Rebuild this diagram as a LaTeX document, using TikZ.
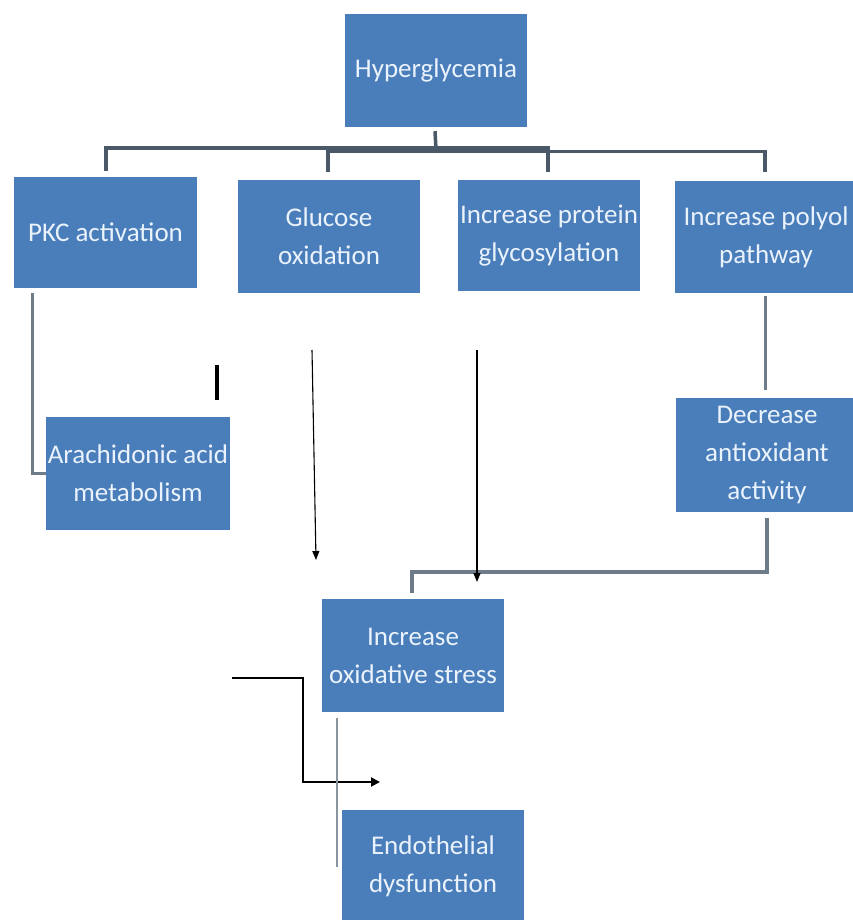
\documentclass[tikz,border=0pt]{standalone}
\usepackage{fontspec}
\setmainfont{Carlito}
\usetikzlibrary{arrows.meta,calc}
\definecolor{boxblue}{HTML}{4A7EBB}
\definecolor{boxtext}{HTML}{EAF2FB}
\definecolor{treeline}{HTML}{4A5868}
\definecolor{grayline}{HTML}{6E7C8A}
\definecolor{thingray}{HTML}{8A949E}
\begin{document}
\begin{tikzpicture}[x=1pt,y=-1pt,
  bluebox/.style={rectangle,fill=boxblue,text=boxtext,inner sep=0pt,
    minimum width=182pt,minimum height=113pt,align=center,
    font=\fontsize{27}{38}\selectfont},
  treelink/.style={draw=treeline,line width=3.5pt},
  graylink/.style={draw=grayline,line width=3pt},
  blackarrow/.style={draw=black,line width=1.1pt,-{Triangle[length=9pt,width=7pt]}},
  bentarrow/.style={draw=black,line width=2pt,-{Triangle[length=9pt,width=9pt]}}
]
\useasboundingbox[fill=white] (0,0) rectangle (852,920);

% boxes
\node[bluebox] (hyper) at (436,70.5) {Hyperglycemia};
\node[bluebox,minimum width=183pt,minimum height=111pt] (pkc) at (105.5,232.5) {PKC activation};
\node[bluebox] (glu) at (329,236.5) {Glucose\\oxidation};
\node[bluebox,minimum height=111pt] (prot) at (549,235.5) {Increase protein\\glycosylation};
\node[bluebox,minimum height=112pt] (poly) at (766,237) {Increase polyol\\pathway};
\node[bluebox,minimum width=184pt] (arach) at (138,473.5) {Arachidonic acid\\metabolism};
\node[bluebox,minimum height=114pt] (decr) at (767,455) {Decrease\\antioxidant\\activity};
\node[bluebox] (oxid) at (413,655.5) {Increase\\oxidative stress};
\node[bluebox,minimum height=112pt] (endo) at (433,866) {Endothelial\\dysfunction};

% tree from Hyperglycemia
\coordinate (stemtop) at ($(hyper.south)+(-1,4)$);
\coordinate (busA) at (436,149);
\coordinate (busAl) at (106,148);
\coordinate (busAr) at (548,148);
\coordinate (busBl) at (328,151.5);
\coordinate (busBr) at (765,151.5);
\draw[treelink] (stemtop) -- (busA);
\draw[treelink] ($(pkc.north)+(0.5,-6)$) -- (busAl) -- (busAr) -- ($(prot.north)+(-1,-8)$);
\draw[treelink] ($(glu.north)+(-1,-8)$) -- (busBl) -- (busBr) -- ($(poly.north)+(-1,-9)$);

% PKC -> Arachidonic
\coordinate (pkcdown) at (32,293);
\coordinate (pkcbend) at (32,473);
\draw[graylink] (pkcdown) -- (pkcbend) -- (pkcbend -| arach.west);

% Polyol -> Decrease
\draw[graylink] ($(poly.south)+(-1,3)$) -- ($(decr.north)+(-2,-8)$);

% Decrease -> Oxidative stress
\coordinate (decrdown) at ($(decr.south)+(0,6)$);
\coordinate (bracketR) at (767,572);
\coordinate (bracketL) at (412,572);
\draw[treelink,line width=3.5pt,draw=grayline] (decrdown) -- (bracketR) -- (bracketL) -- ($(oxid.north)+(-1,-6)$);

% thin black arrows
\coordinate (gluarrow) at (312,350);
\coordinate (glutip) at (316,560);
\draw[blackarrow] (gluarrow) -- (glutip);
\coordinate (protarrow) at (477,350);
\coordinate (prottip) at (477,582);
\draw[blackarrow] (protarrow) -- (prottip);

% small black bar
\coordinate (barT) at (217,365);
\coordinate (barB) at (217,400);
\draw[black,line width=4pt] (barT) -- (barB);

% bent black arrow near Oxidative stress
\coordinate (bentS) at (232,678);
\coordinate (bent1) at (303,678);
\coordinate (bent2) at (303,782);
\coordinate (bentE) at (380,782);
\draw[bentarrow] (bentS) -- (bent1) -- (bent2) -- (bentE);

% thin gray line between Oxidative stress and Endothelial dysfunction
\coordinate (grayT) at (337,718);
\coordinate (grayB) at (337,867);
\draw[thingray,line width=1.8pt] (grayT) -- (grayB);
\end{tikzpicture}
\end{document}
